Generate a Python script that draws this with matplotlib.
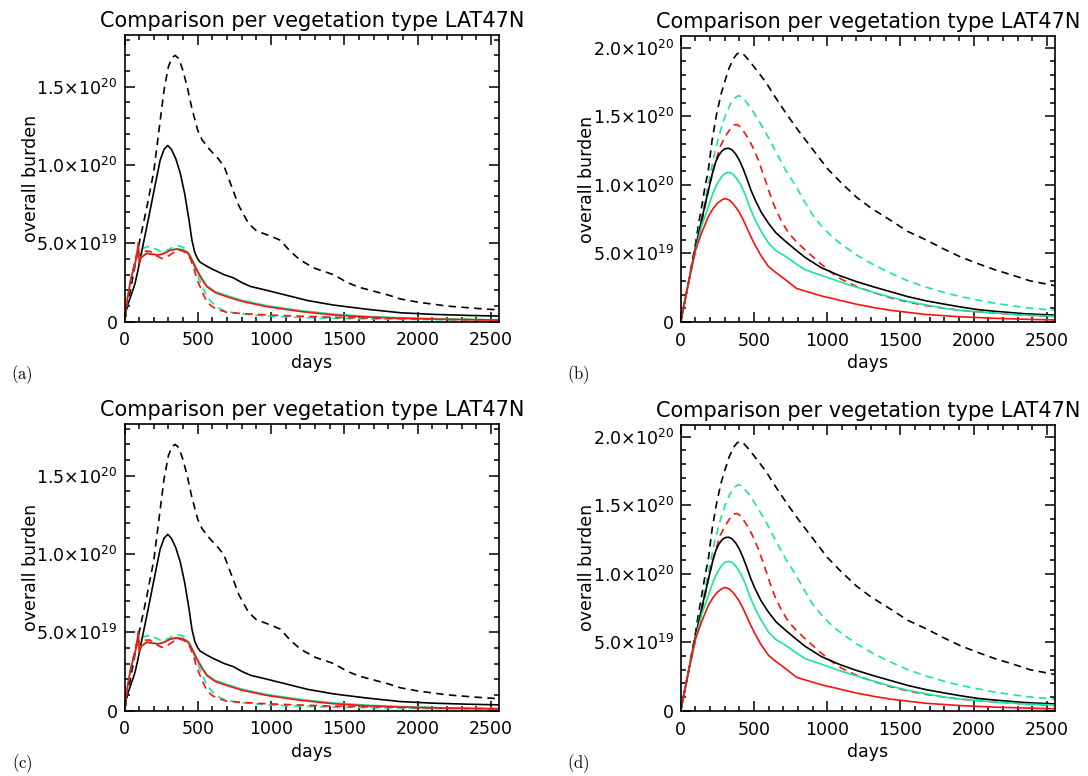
import numpy as np
import matplotlib.pyplot as plt
from matplotlib.ticker import MultipleLocator

# burden values in units of 1e19
# ---- left panels (a), (c)
a_kd_days = [0, 50, 100, 150, 200, 243, 270, 300, 325, 345, 370, 400, 430, 460, 500, 530, 580, 640,
             680, 720, 780, 846, 900, 1000, 1063, 1130, 1199, 1300, 1427, 1520, 1600, 1700, 1800,
             1883, 2000, 2200, 2400, 2555]
a_kd_vals = [0, 2.5, 5.0, 7.2, 9.6, 12.8, 14.8, 16.3, 16.85, 17.0, 16.8, 16.0, 14.9, 13.6, 12.2, 11.6,
             11.0, 10.4, 9.9, 8.9, 7.4, 6.27, 5.8, 5.45, 5.2, 4.5, 3.93, 3.4, 3.0, 2.5, 2.2, 1.95,
             1.7, 1.45, 1.25, 1.0, 0.85, 0.75]

a_ks_days = [0, 15, 38, 60, 72, 90, 120, 152, 200, 243, 270, 295, 320, 350, 380, 410, 440, 460, 480,
             500, 516, 560, 600, 680, 743, 800, 860, 972, 1100, 1250, 1427, 1650, 1883, 2100, 2350, 2555]
a_ks_vals = [0, 0.9, 1.5, 2.1, 2.45, 3.2, 4.6, 6.05, 8.3, 10.3, 11.0, 11.25, 11.0, 10.4, 9.5, 8.2,
             6.5, 5.2, 4.4, 4.0, 3.8, 3.55, 3.35, 3.0, 2.8, 2.5, 2.25, 2.0, 1.7, 1.35, 1.06, 0.8, 0.57,
             0.47, 0.4, 0.36]

a_rs_days = [0, 20, 45, 70, 85, 94, 101, 115, 152, 190, 231, 270, 310, 357, 400, 430, 448, 470, 493,
             525, 562, 620, 698, 800, 972, 1200, 1427, 1650, 1883, 2200, 2555]
a_rs_vals = [0, 1.5, 2.8, 3.6, 4.3, 5.05, 3.75, 4.1, 4.36, 4.3, 4.25, 4.35, 4.55, 4.63, 4.55, 4.4,
             4.14, 3.75, 3.29, 2.75, 2.23, 1.85, 1.6, 1.3, 0.96, 0.65, 0.43, 0.3, 0.22, 0.15, 0.1]

a_gs_days = [0, 20, 45, 70, 85, 94, 101, 115, 152, 190, 231, 270, 310, 357, 400, 430, 448, 470, 493,
             525, 562, 620, 698, 800, 972, 1200, 1427, 1650, 1883, 2200, 2555]
a_gs_vals = [0, 1.5, 2.8, 3.6, 4.3, 4.9, 3.8, 4.15, 4.38, 4.32, 4.27, 4.38, 4.58, 4.66, 4.6, 4.45,
             4.2, 3.82, 3.36, 2.83, 2.3, 1.92, 1.67, 1.37, 1.02, 0.71, 0.48, 0.34, 0.25, 0.17, 0.12]

a_gd_days = [0, 40, 80, 100, 130, 174, 210, 254, 300, 340, 368, 400, 425, 450, 470, 493, 530, 562,
             600, 630, 698, 800, 972, 1200, 1427, 1883, 2200, 2555]
a_gd_vals = [0, 2.5, 4.3, 4.6, 4.7, 4.82, 4.65, 4.45, 4.6, 4.8, 4.84, 4.75, 4.57, 4.2, 3.7, 3.1, 2.3,
             1.6, 1.2, 0.92, 0.64, 0.5, 0.36, 0.27, 0.21, 0.15, 0.12, 0.1]

a_rd_days = [0, 40, 80, 100, 130, 174, 210, 254, 300, 340, 368, 400, 425, 450, 470, 493, 530, 562,
             600, 630, 698, 800, 972, 1200, 1427, 1883, 2200, 2555]
a_rd_vals = [0, 2.5, 4.2, 4.4, 4.5, 4.5, 4.25, 4.03, 4.2, 4.45, 4.57, 4.5, 4.36, 4.0, 3.5, 2.76, 1.9,
             1.27, 0.95, 0.79, 0.6, 0.52, 0.43, 0.35, 0.28, 0.2, 0.15, 0.12]

# ---- right panels (b), (d)
b_kd_days = [0, 25, 52, 75, 98, 120, 143, 165, 189, 215, 246, 275, 303, 330, 360, 385, 405, 430, 460,
             508, 580, 645, 720, 800, 900, 1000, 1100, 1200, 1300, 1435, 1550, 1672, 1800, 1909, 2030,
             2147, 2270, 2384, 2555]
b_kd_vals = [0, 1.4, 2.8, 4.2, 5.5, 7.0, 8.4, 9.8, 11.1, 13.3, 15.2, 16.6, 17.6, 18.5, 19.2, 19.55,
             19.65, 19.5, 19.15, 18.5, 17.5, 16.4, 15.2, 14.0, 12.6, 11.2, 10.1, 9.1, 8.3, 7.4, 6.6,
             6.0, 5.3, 4.75, 4.25, 3.8, 3.4, 3.0, 2.65]

b_gd_days = [0, 52, 98, 143, 189, 235, 270, 303, 340, 365, 394, 420, 450, 480, 508, 576, 645, 720,
             781, 850, 900, 961, 1020, 1080, 1198, 1320, 1435, 1550, 1672, 1800, 1909, 2030, 2147,
             2350, 2555]
b_gd_vals = [0, 2.8, 5.3, 7.7, 10.1, 12.5, 13.9, 15.0, 15.9, 16.3, 16.5, 16.4, 16.0, 15.6, 15.1, 13.9,
             12.5, 11.0, 10.0, 8.7, 7.8, 7.0, 6.35, 5.8, 4.9, 4.15, 3.55, 3.0, 2.55, 2.15, 1.85, 1.6,
             1.36, 1.05, 0.85]

b_rd_days = [0, 52, 98, 143, 189, 235, 270, 303, 340, 360, 383, 405, 430, 460, 485, 510, 530, 576, 610,
             645, 690, 736, 790, 850, 950, 1030, 1100, 1198, 1300, 1435, 1550, 1672, 1800, 1909, 2147,
             2350, 2555]
b_rd_vals = [0, 2.8, 5.0, 7.2, 9.6, 11.6, 12.8, 13.5, 14.1, 14.35, 14.4, 14.25, 13.9, 13.4, 12.9, 12.3,
             11.8, 10.4, 9.3, 8.3, 7.3, 6.5, 5.85, 5.25, 4.3, 3.6, 3.1, 2.6, 2.2, 1.75, 1.45, 1.2, 1.0,
             0.85, 0.65, 0.5, 0.4]

b_ks_days = [0, 52, 98, 143, 189, 220, 240, 260, 280, 300, 325, 350, 375, 400, 425, 450, 480, 508,
             550, 599, 650, 713, 780, 850, 961, 1080, 1198, 1320, 1435, 1550, 1672, 1800, 1909, 2030,
             2147, 2350, 2555]
b_ks_vals = [0, 2.8, 5.3, 7.45, 9.6, 11.0, 11.7, 12.15, 12.45, 12.62, 12.67, 12.55, 12.25, 11.8, 11.2,
             10.5, 9.6, 8.9, 8.0, 7.2, 6.5, 5.9, 5.3, 4.7, 3.95, 3.4, 2.95, 2.55, 2.2, 1.85, 1.55, 1.3,
             1.1, 0.9, 0.78, 0.6, 0.5]

b_gs_days = [0, 52, 98, 143, 189, 220, 250, 280, 305, 330, 355, 380, 410, 440, 470, 508, 550, 599,
             650, 713, 780, 850, 961, 1080, 1198, 1320, 1435, 1550, 1672, 1800, 1909, 2147, 2350, 2555]
b_gs_vals = [0, 2.8, 5.1, 7.0, 8.4, 9.4, 10.1, 10.6, 10.85, 10.9, 10.8, 10.5, 10.0, 9.3, 8.4, 7.45,
             6.6, 5.75, 5.2, 4.8, 4.3, 3.8, 3.4, 2.95, 2.55, 2.15, 1.8, 1.5, 1.25, 1.0, 0.85, 0.65, 0.5,
             0.42]

b_rs_days = [0, 52, 98, 143, 189, 220, 250, 280, 303, 330, 360, 394, 420, 450, 480, 508, 550, 599, 650,
             713, 790, 850, 961, 1080, 1198, 1320, 1435, 1672, 1909, 2147, 2350, 2555]
b_rs_vals = [0, 2.8, 5.15, 6.5, 7.7, 8.25, 8.65, 8.9, 9.0, 8.9, 8.6, 8.1, 7.6, 6.9, 6.2, 5.6, 4.8,
             4.05, 3.6, 3.1, 2.45, 2.25, 1.9, 1.6, 1.3, 1.05, 0.85, 0.55, 0.38, 0.27, 0.2, 0.15]

a_yticks = [0, 5e19, 1e20, 1.5e20]
a_ylabels = ['0', r'5.0$\times$10$^{19}$', r'1.0$\times$10$^{20}$', r'1.5$\times$10$^{20}$']
b_yticks = [0, 5e19, 1e20, 1.5e20, 2e20]
b_ylabels = a_ylabels + [r'2.0$\times$10$^{20}$']
xticks = [0, 500, 1000, 1500, 2000, 2500]

BLACK = 'black'
GREEN = '#16e6a0'
RED = '#ff1010'

left_curves = [(a_gd_days, a_gd_vals, GREEN, '--'), (a_rd_days, a_rd_vals, RED, '--'),
               (a_kd_days, a_kd_vals, BLACK, '--'), (a_ks_days, a_ks_vals, BLACK, '-'),
               (a_gs_days, a_gs_vals, GREEN, '-'), (a_rs_days, a_rs_vals, RED, '-')]
right_curves = [(b_kd_days, b_kd_vals, BLACK, '--'), (b_gd_days, b_gd_vals, GREEN, '--'),
                (b_rd_days, b_rd_vals, RED, '--'), (b_ks_days, b_ks_vals, BLACK, '-'),
                (b_gs_days, b_gs_vals, GREEN, '-'), (b_rs_days, b_rs_vals, RED, '-')]

plt.rcParams['font.family'] = ['DejaVu Sans']
plt.rcParams['mathtext.fontset'] = 'dejavusans'

fig = plt.figure(figsize=(10.88, 7.76), dpi=100)

W, H = 1088, 776
# pixel boxes: left, right, top, bottom
boxes = {'a': (124.5, 499, 35, 321.7), 'b': (680.7, 1055, 36, 322),
         'c': (124.5, 499, 424, 710.5), 'd': (680.7, 1055, 425, 710.8)}


def make_panel(key, curves, yticks, ylabels, ymax, letter_x, letter_y):
    l, r, t, b = boxes[key]
    ax = fig.add_axes([l / W, 1 - b / H, (r - l) / W, (b - t) / H])
    for days, vals, col, ls in curves:
        ax.plot(days, np.array(vals) * 1e19, color=col, ls=ls, lw=1.2,
                dashes=(4.5, 3.2) if ls == '--' else (None, None))
    ax.set_xlim(0, 2555)
    ax.set_ylim(0, ymax)
    ax.set_xticks(xticks)
    ax.set_xticklabels([str(x) for x in xticks])
    ax.set_yticks(yticks)
    ax.set_yticklabels(ylabels)
    ax.xaxis.set_minor_locator(MultipleLocator(100))
    ax.yaxis.set_minor_locator(MultipleLocator(1e19))
    ax.tick_params(which='both', direction='in', top=True, right=True, width=1.1)
    ax.tick_params(which='major', length=7, labelsize=12.5)
    ax.tick_params(which='minor', length=3.5)
    ax.tick_params(axis='x', pad=7)
    ax.tick_params(axis='y', pad=5)
    for s in ax.spines.values():
        s.set_linewidth(1.2)
    ax.set_title('Comparison per vegetation type LAT47N', fontsize=15, pad=6)
    ax.set_xlabel('days', fontsize=12.5)
    ax.xaxis.set_label_coords(0.5, -0.145)
    ax.xaxis.label.set_va('center')
    ax.set_ylabel('overall burden', fontsize=12.5)
    ax.yaxis.set_label_coords(-0.25, 0.5)
    ax.yaxis.label.set_va('center')
    fig.text(letter_x / W, 1 - letter_y / H, r'$\mathrm{(' + key + ')}$',
             fontsize=12, math_fontfamily='cm', ha='center', va='center')
    return ax


make_panel('a', left_curves, a_yticks, a_ylabels, 1.83e20, 22, 375)
make_panel('b', right_curves, b_yticks, b_ylabels, 2.085e20, 578, 375)
make_panel('c', left_curves, a_yticks, a_ylabels, 1.83e20, 22, 764)
make_panel('d', right_curves, b_yticks, b_ylabels, 2.085e20, 578, 764)

fig.savefig('out.png', dpi=100)
